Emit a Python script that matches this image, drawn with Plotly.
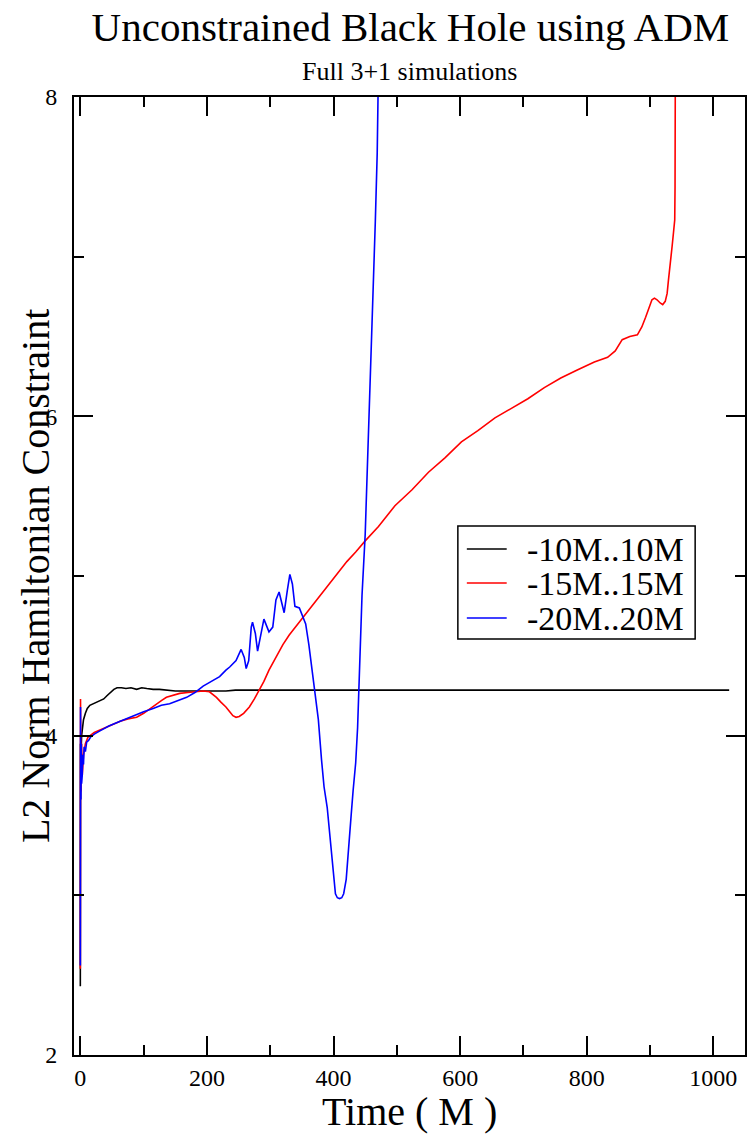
import plotly.graph_objects as go

# Time (M) and L2 norm of the Hamiltonian constraint for three grid extents
t_10 = [0, 0.3, 1, 2, 3, 5, 8, 11, 15, 21, 28, 37, 42, 47, 53, 58, 65, 72, 80, 89,
        97, 105, 115, 125, 136, 150, 167, 190, 230, 245, 300, 400, 500, 600, 700,
        800, 900, 1000, 1025]
h_10 = [2.43, 3.95, 3.88, 4.00, 4.04, 4.10, 4.14, 4.17, 4.19, 4.20, 4.21, 4.23, 4.25,
        4.27, 4.29, 4.30, 4.30, 4.295, 4.30, 4.29, 4.30, 4.295, 4.29, 4.29, 4.285,
        4.28, 4.28, 4.28, 4.28, 4.285, 4.285, 4.285, 4.285, 4.285, 4.285, 4.285,
        4.285, 4.285, 4.285]

t_15 = [0, 0.3, 1, 2, 3, 5, 8, 12, 16, 22, 31, 45, 63, 75, 89, 100, 110, 120, 128,
        136, 146, 157, 170, 183, 194, 204, 215, 222, 230, 236, 241, 246, 251, 258,
        267, 275, 283, 290, 298, 310, 320, 330, 340, 352, 365, 380, 393, 407, 421,
        435, 450, 471, 497, 524, 550, 576, 602, 628, 655, 681, 707, 733, 759, 785,
        812, 833, 845, 856, 868, 880, 887, 893, 898, 903, 907, 911, 916, 920, 924,
        927, 929, 931, 933, 935, 937, 939, 939.5, 940]
h_15 = [2.54, 4.23, 3.65, 3.95, 3.75, 3.88, 3.95, 3.99, 4.00, 4.02, 4.035, 4.06, 4.09,
        4.105, 4.115, 4.14, 4.17, 4.20, 4.22, 4.24, 4.25, 4.265, 4.27, 4.275, 4.28,
        4.275, 4.24, 4.21, 4.18, 4.15, 4.125, 4.115, 4.12, 4.14, 4.18, 4.23, 4.285,
        4.34, 4.41, 4.50, 4.57, 4.63, 4.68, 4.74, 4.81, 4.88, 4.95, 5.02, 5.09, 5.15,
        5.22, 5.31, 5.44, 5.54, 5.65, 5.74, 5.84, 5.91, 5.99, 6.05, 6.11, 6.18, 6.24,
        6.29, 6.34, 6.37, 6.41, 6.48, 6.50, 6.51, 6.56, 6.62, 6.68, 6.73, 6.74, 6.73,
        6.71, 6.70, 6.72, 6.77, 6.85, 6.94, 7.00, 7.07, 7.15, 7.23, 7.44, 8.30]

t_20 = [0, 0.3, 1, 1.5, 2, 2.5, 3, 4, 5, 6, 8, 10, 13, 16, 22, 31, 45, 63, 75, 89,
        100, 115, 128, 141, 155, 168, 181, 194, 207, 220, 230, 236, 246, 254, 259,
        262, 266, 270, 272, 276.5, 280, 284, 290, 293, 298, 304, 309, 314, 318, 322,
        327, 331, 335, 339, 346, 352, 356, 361, 366, 371, 376, 381, 385, 390, 394,
        398, 400.5, 403, 406, 409.5, 413, 416, 420, 424, 428, 431, 435, 438, 441,
        445, 450, 454, 458, 462, 466, 469, 471]
h_20 = [2.56, 4.18, 3.60, 3.95, 3.70, 3.92, 3.75, 3.88, 3.82, 3.93, 3.90, 3.96, 3.97,
        3.99, 4.01, 4.03, 4.06, 4.09, 4.11, 4.13, 4.15, 4.17, 4.19, 4.20, 4.22, 4.24,
        4.27, 4.31, 4.34, 4.37, 4.41, 4.43, 4.47, 4.54, 4.49, 4.42, 4.47, 4.68, 4.71,
        4.64, 4.53, 4.62, 4.73, 4.70, 4.65, 4.68, 4.85, 4.90, 4.83, 4.77, 4.91, 5.01,
        4.95, 4.81, 4.80, 4.74, 4.70, 4.57, 4.40, 4.25, 4.10, 3.85, 3.68, 3.55, 3.39,
        3.24, 3.12, 3.01, 2.985, 2.98, 2.985, 3.01, 3.10, 3.28, 3.51, 3.66, 3.83,
        4.05, 4.38, 4.88, 5.26, 5.73, 6.22, 6.72, 7.22, 7.65, 8.20]

series_names = ["-10M..10M", "-15M..15M", "-20M..20M"]
series_colors = ["#000000", "#ff0000", "#0000ff"]

X_RANGE = [-10, 1050]
Y_RANGE = [2, 8]

SERIF = "Liberation Serif"
W, H = 749, 1135
M_L, M_R, M_T, M_B = 74, 2, 97, 80
PW, PH = W - M_L - M_R, H - M_T - M_B


def px_x(p):
    """Pixel column -> paper x."""
    return (p - M_L) / PW


def px_y(p):
    """Pixel row -> paper y."""
    return (H - M_B - p) / PH


fig = go.Figure()
for tt, hh, name, color in zip([t_10, t_15, t_20], [h_10, h_15, h_20],
                               series_names, series_colors):
    fig.add_trace(go.Scatter(x=tt, y=hh, mode="lines", name=name,
                             line=dict(color=color, width=1.6), showlegend=False))

# Boxed legend: frame, short line samples and labels
legend_left, legend_right, legend_top, legend_bottom = 459, 697, 526, 639
row_y = [549, 583, 618]
shapes = [dict(type="rect", xref="paper", yref="paper",
               x0=px_x(legend_left), x1=px_x(legend_right),
               y0=px_y(legend_bottom), y1=px_y(legend_top),
               line=dict(color="black", width=1.5), fillcolor="white", layer="above")]
annotations = []
for ry, name, color in zip(row_y, series_names, series_colors):
    shapes.append(dict(type="line", xref="paper", yref="paper",
                       x0=px_x(468), x1=px_x(508), y0=px_y(ry), y1=px_y(ry),
                       line=dict(color=color, width=1.6), layer="above"))
    annotations.append(dict(text=name, xref="paper", yref="paper",
                            x=px_x(526), y=px_y(ry), xanchor="left", yanchor="middle",
                            showarrow=False,
                            font=dict(family=SERIF, size=34, color="black")))

annotations += [
    dict(text="Full 3+1 simulations", xref="paper", yref="paper",
         x=0.5, y=px_y(72), xanchor="center", yanchor="middle", showarrow=False,
         font=dict(family=SERIF, size=26, color="black")),
    dict(text="Time ( M )", xref="paper", yref="paper",
         x=0.5, y=px_y(1111), xanchor="center", yanchor="middle", showarrow=False,
         font=dict(family=SERIF, size=40, color="black")),
    dict(text="L2 Norm Hamiltonian Constraint", xref="paper", yref="paper",
         x=px_x(35), y=0.5, xanchor="center", yanchor="middle", showarrow=False,
         textangle=-90, font=dict(family=SERIF, size=40, color="black")),
]

# closed frame with inward major/minor ticks repeated on the opposite sides
frame = dict(showgrid=False, zeroline=False, showline=True, linecolor="black",
             linewidth=2, mirror="allticks", ticks="inside", ticklen=19,
             tickwidth=2, tickcolor="black",
             tickfont=dict(family=SERIF, size=24, color="black"))
minor_ticks = dict(ticks="inside", ticklen=10, tickwidth=2, tickcolor="black",
                   showgrid=False)

fig.update_layout(
    width=W, height=H,
    margin=dict(l=M_L, r=M_R, t=M_T, b=M_B),
    paper_bgcolor="white", plot_bgcolor="white",
    font=dict(family=SERIF, color="black"),
    title=dict(text="Unconstrained Black Hole using ADM", x=0.548, xanchor="center",
               y=1 - 27 / H, yanchor="middle",
               font=dict(family=SERIF, size=41, color="black")),
    xaxis=dict(range=X_RANGE, tickmode="linear", tick0=0, dtick=200,
               minor=dict(tick0=0, dtick=100, **minor_ticks), **frame),
    yaxis=dict(range=Y_RANGE, tickmode="linear", tick0=0, dtick=2,
               ticklabelstandoff=10,
               minor=dict(tick0=0, dtick=1, **minor_ticks), **frame),
    showlegend=False,
    shapes=shapes,
    annotations=annotations,
)

fig.write_html("out.html")
